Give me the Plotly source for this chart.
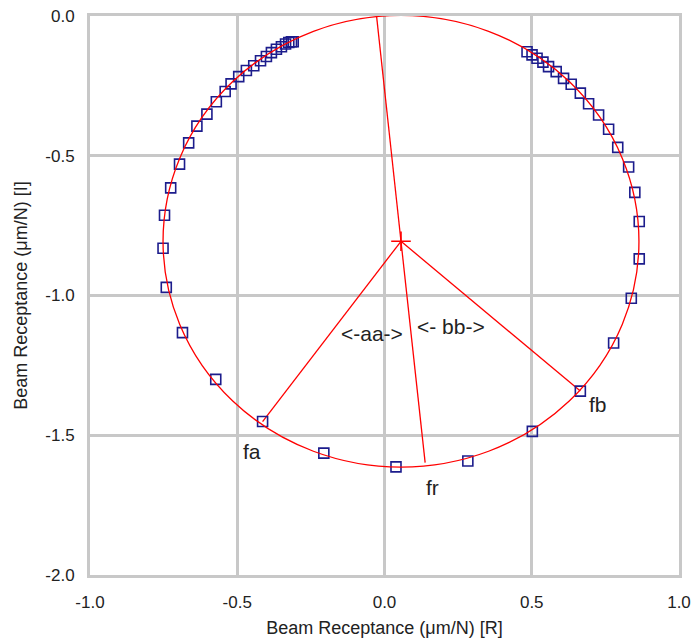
import plotly.graph_objects as go

# ---- data ----
meas_x = [-0.573, -0.686, -0.741, -0.752, -0.747, -0.726, -0.696, -0.665, -0.637, -0.603,
          -0.571, -0.541, -0.521, -0.495, -0.469, -0.444, -0.421, -0.401, -0.384, -0.367,
          -0.350, -0.336, -0.325, -0.316, -0.310,
          0.484, 0.501, 0.518, 0.538, 0.557, 0.583, 0.608, 0.634, 0.665, 0.693,
          0.727, 0.761, 0.792, 0.829, 0.850, 0.865, 0.865, 0.838, 0.778, 0.665,
          0.502, 0.283, 0.039, -0.206, -0.414]
meas_y = [-1.300, -1.133, -0.971, -0.831, -0.713, -0.615, -0.530, -0.454, -0.394, -0.351,
          -0.307, -0.270, -0.243, -0.217, -0.195, -0.178, -0.160, -0.145, -0.131, -0.119,
          -0.110, -0.100, -0.095, -0.092, -0.092,
          -0.128, -0.139, -0.151, -0.165, -0.181, -0.199, -0.223, -0.244, -0.276, -0.314,
          -0.354, -0.405, -0.470, -0.540, -0.631, -0.735, -0.869, -1.010, -1.170, -1.342,
          -1.486, -1.592, -1.613, -1.564, -1.451]

circle_center = (0.056, -0.806)
circle_radius = 0.808

line_end_x = [-0.027, 0.138, -0.414, 0.665]
line_end_y = [0.0, -1.598, -1.451, -1.342]

label_text = ["fa", "fr", "fb", "<-aa->", "<- bb->"]
label_x = [-0.451, 0.162, 0.726, -0.043, 0.226]
label_y = [-1.557, -1.686, -1.389, -1.136, -1.111]

x_ticks = [-1.0, -0.5, 0.0, 0.5, 1.0]
y_ticks = [0.0, -0.5, -1.0, -1.5, -2.0]

FONT = "Liberation Sans, Arial, sans-serif"
GRID = "#c8c8c8"

fig = go.Figure()

# radial lines from the circle centre
lx, ly = [], []
for ex, ey in zip(line_end_x, line_end_y):
    lx += [circle_center[0], ex, None]
    ly += [circle_center[1], ey, None]
fig.add_trace(go.Scatter(x=lx, y=ly, mode="lines",
                         line=dict(color="#ff0000", width=1.3),
                         hoverinfo="skip", showlegend=False))

fig.add_trace(go.Scatter(x=meas_x, y=meas_y, mode="markers",
                         marker=dict(symbol="square-open", size=10,
                                     color="#1c1c8c", line=dict(width=1.6, color="#1c1c8c")),
                         showlegend=False))

fig.add_trace(go.Scatter(x=[circle_center[0]], y=[circle_center[1]], mode="markers",
                         marker=dict(symbol="cross-thin", size=14,
                                     line=dict(width=1.6, color="#ff0000")),
                         showlegend=False))

fig.add_shape(type="circle", xref="x", yref="y",
              x0=circle_center[0] - circle_radius, x1=circle_center[0] + circle_radius,
              y0=circle_center[1] - circle_radius, y1=circle_center[1] + circle_radius,
              line=dict(color="#ff0000", width=1.3), layer="above")

for t, x, y in zip(label_text, label_x, label_y):
    fig.add_annotation(x=x, y=y, text=t, showarrow=False,
                       font=dict(family=FONT, size=21, color="#222222"))

fig.update_layout(
    width=692, height=641,
    margin=dict(l=90, r=13, t=16, b=66),
    plot_bgcolor="white", paper_bgcolor="white",
    font=dict(family=FONT, color="#222222"),
    showlegend=False,
)
fig.update_xaxes(range=[-1, 1], tickvals=x_ticks, automargin=False,
                 ticktext=[f"{v:.1f}" for v in x_ticks],
                 showgrid=True, gridcolor=GRID, gridwidth=3,
                 zeroline=False, showline=True, linecolor=GRID, linewidth=3, mirror=True,
                 ticks="outside", ticklen=10, tickcolor="rgba(0,0,0,0)",
                 tickfont=dict(size=17, family=FONT, color="#222222"),
                 title=dict(text="Beam Receptance (μm/N) [R]", standoff=10,
                            font=dict(size=18, family=FONT, color="#222222")))
fig.update_yaxes(range=[-2, 0], tickvals=y_ticks, automargin=False,
                 ticktext=[f"{v:.1f}" for v in y_ticks],
                 showgrid=True, gridcolor=GRID, gridwidth=3,
                 zeroline=False, showline=True, linecolor=GRID, linewidth=3, mirror=True,
                 ticks="outside", ticklen=9, tickcolor="rgba(0,0,0,0)",
                 tickfont=dict(size=17, family=FONT, color="#222222"),
                 title=dict(text="Beam Receptance (μm/N) [I]", standoff=14,
                            font=dict(size=18, family=FONT, color="#222222")))

fig.write_html("out.html", config={"displayModeBar": False},
               post_script="document.body.style.margin='0';document.body.style.overflow='hidden';")
